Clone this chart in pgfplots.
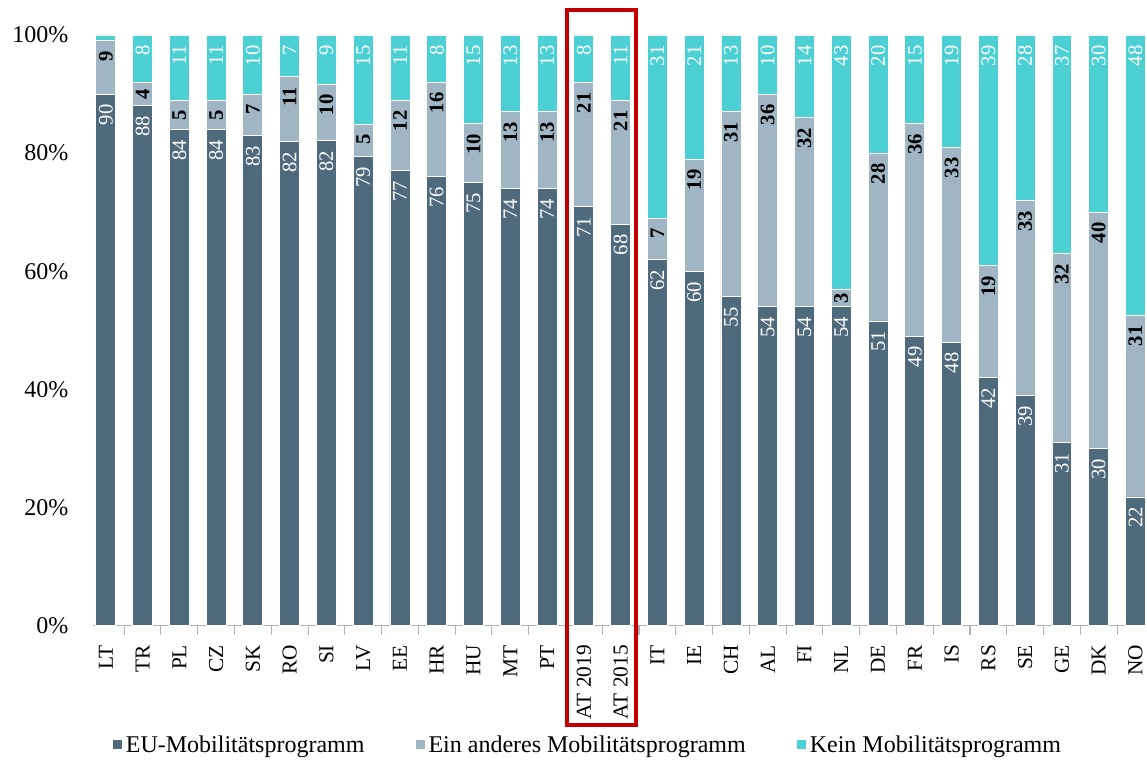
\documentclass[border=0pt]{standalone}
\usepackage{fontspec}
\setmainfont{Liberation Serif}
\usepackage{pgfplots}
\usepackage{pgfplotstable}
\pgfplotsset{compat=1.18}
\definecolor{cEU}{RGB}{79,106,125}
\definecolor{cAnd}{RGB}{160,182,196}
\definecolor{cKein}{RGB}{77,208,212}
\definecolor{cRed}{RGB}{192,0,0}
\newcommand\fs{\fontsize{15.5}{18}\selectfont}
\newcommand\fx{\fontsize{16}{19}\selectfont}
\newcommand\fl{\fontsize{18}{21}\selectfont}

\pgfplotstableread{
x eu eo ke leu leo lke
0 90 9 1 90 9 {}
1 88 4 8 88 4 8
2 84 5 11 84 5 11
3 84 5 11 84 5 11
4 83 7 10 83 7 10
5 82 11 7 82 11 7
6 82.1 9.6 8.3 82 10 9
7 79.4 5.5 15.1 79 5 15
8 77 12 11 77 12 11
9 76 16 8 76 16 8
10 75 10 15 75 10 15
11 74 13 13 74 13 13
12 74 13 13 74 13 13
13 71 21 8 71 21 8
14 68 21 11 68 21 11
15 62 7 31 62 7 31
16 60 19 21 60 19 21
17 55.7 31.3 13 55 31 13
18 54 36 10 54 36 10
19 54 32 14 54 32 14
20 54 3 43 54 3 43
21 51.6 28.4 20 51 28 20
22 49 36 15 49 36 15
23 48 33 19 48 33 19
24 42 19 39 42 19 39
25 39 33 28 39 33 28
26 31 32 37 31 32 37
27 30 40 30 30 40 30
28 21.8 30.8 47.4 22 31 48
}\data

\begin{document}
\begin{tikzpicture}
\begin{axis}[
  scale only axis,
  width=790.5pt, height=443.25pt,
  ybar stacked, bar width=15pt,
  xmin=-0.35, xmax=28.3, ymin=0, ymax=100,
  clip=false,
  axis x line*=bottom, axis y line*=left,
  y axis line style={draw=none},
  x axis line style={draw=black!30, line width=0.8pt},
  ytick={0,20,40,60,80,100},
  ytick style={draw=none},
  /pgf/number format/assume math mode=true,
  yticklabel={\pgfmathprintnumber{\tick}\%},
  yticklabel style={font=\fl, anchor=east, inner sep=0pt, xshift=-14pt},
  xtick={0,...,28},
  xticklabels={LT,TR,PL,CZ,SK,RO,SI,LV,EE,HR,HU,MT,PT,AT 2019,AT 2015,IT,IE,CH,AL,FI,NL,DE,FR,IS,RS,SE,GE,DK,NO},
  major x tick style={draw=none},
  minor xtick={0.5,1.5,...,28.5},
  minor x tick style={draw=black!30, line width=0.8pt},
  minor tick length=7pt,
  tick align=outside,
  xticklabel style={font=\fx, rotate=90, anchor=east, inner sep=0pt},
  xticklabel shift=10pt,
  point meta=explicit symbolic,
  visualization depends on={rawy \as \segh},
  nodes near coords={\pgfplotspointmeta},
  every node near coord/.append style={font=\fs,
    yshift={\segh*2.21625pt-min(7.5,\segh*2.21625-4)*1pt},
    rotate=90, anchor=east, inner sep=0pt},
  legend columns=3,
  legend style={at={(0.47,-0.203)}, anchor=center, draw=none, font=\fl,
    /tikz/every even column/.append style={column sep=36pt}},
  legend image code/.code={\fill[#1] (0pt,-3pt) rectangle (7.5pt,4.5pt);},
]
\addplot[fill=cEU, draw=white, line width=0.6pt,
  every node near coord/.append style={text=white}]
  table[x=x, y=eu, meta=leu] {\data};
\addlegendentry{EU-Mobilitätsprogramm}
\addplot[fill=cAnd, draw=white, line width=0.6pt,
  every node near coord/.append style={text=black, font=\fs\bfseries}]
  table[x=x, y=eo, meta=leo] {\data};
\addlegendentry{Ein anderes Mobilitätsprogramm}
\addplot[fill=cKein, draw=white, line width=0.6pt,
  every node near coord/.append style={text=white}]
  table[x=x, y=ke, meta=lke] {\data};
\addlegendentry{Kein Mobilitätsprogramm}
\draw[cRed, line width=3pt] (axis cs:12.53,-16.75) rectangle (axis cs:14.43,104.2);
\path (rel axis cs:-0.0882,-0.225) rectangle (rel axis cs:1,1.0592);
\end{axis}
\end{tikzpicture}
\end{document}
